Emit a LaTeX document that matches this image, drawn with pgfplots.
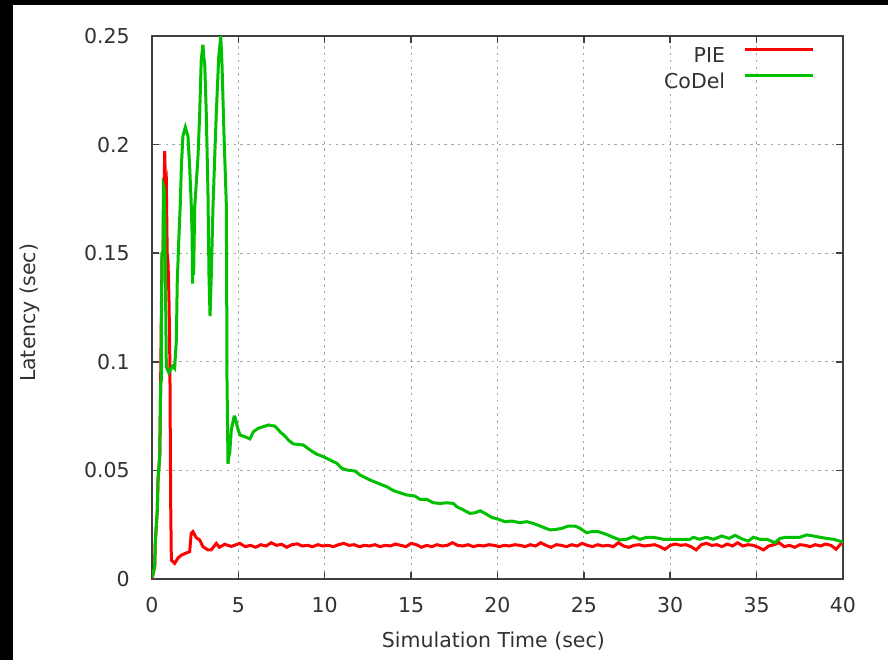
\documentclass[border=0pt]{standalone}
\usepackage{fontspec}
\setmainfont{DejaVu Sans}
\usepackage{pgfplots}
\pgfplotsset{compat=1.18}
\definecolor{gpgreen}{RGB}{0,192,0}
\definecolor{gpred}{RGB}{255,0,0}
\definecolor{axgray}{RGB}{64,64,64}
\definecolor{txtgray}{RGB}{50,50,50}
\begin{document}
\begin{tikzpicture}[font=\fontsize{10.25}{12.3}\selectfont]
\fill[black] (-76pt,-40.5pt) rectangle (368pt,289.5pt);
\fill[white] (-69.5pt,-40.5pt) rectangle (368pt,287pt);
\begin{axis}[
  scale only axis,
  width=345.5pt, height=271.5pt,
  xmin=0, xmax=40, ymin=0, ymax=0.25,
  xtick={0,5,10,15,20,25,30,35,40},
  xticklabels={0,5,10,15,20,25,30,35,40},
  ytick={0,0.05,0.1,0.15,0.2,0.25},
  yticklabels={0,0.05,0.1,0.15,0.2,0.25},
  scaled x ticks=false, scaled y ticks=false,
  xtick pos=both, ytick pos=both,
  tick align=inside,
  major tick length=3.5pt,
  axis line style={axgray, line width=0.75pt},
  tick style={axgray, line width=0.75pt},
  grid=major,
  major grid style={gray!70, line width=0.6pt, dash pattern=on 1.2pt off 2.2pt},
  tick label style={font=\fontsize{10.25}{12.3}\selectfont, text=txtgray},
  xticklabel style={yshift=-5.5pt},
  yticklabel style={xshift=-7.6pt},
  xlabel={Simulation Time (sec)},
  ylabel={Latency (sec)},
  label style={font=\fontsize{10.25}{12.3}\selectfont, text=txtgray},
  xlabel style={at={(axis description cs:0.494,-0.114)}, anchor=center},
  ylabel style={at={(axis description cs:-0.1766,0.49)}, anchor=center, rotate=0},
  legend plot pos=right,
  legend cell align=right,
  legend image code/.code={\draw[#1] (0pt,3.7pt) -- (34pt,3.7pt);},
  legend style={draw=none, fill=none, at={(rel axis cs:1,1)}, anchor=north east,
    xshift=-14.25pt, yshift=-4.85pt, inner sep=0pt, row sep=2.75pt, column sep=8.5pt,
    font=\fontsize{10.25}{12.3}\selectfont, text=txtgray,
    nodes={inner sep=0.5pt, text height=7.5pt, text depth=2pt}},
]
\addplot[gpred, line width=1.5pt] coordinates {
(0,0.0) (0.16,0.006) (0.19,0.017) (0.31,0.032) (0.35,0.046) (0.45,0.057) (0.50,0.09) (0.54,0.121) (0.58,0.148) (0.64,0.151) (0.7,0.18) (0.735,0.197) (0.78,0.18) (0.83,0.182) (0.88,0.15) (0.93,0.145) (0.98,0.13) (1.02,0.11) (1.04,0.093) (1.08,0.036) (1.12,0.0087) (1.31,0.0072) (1.51,0.0097) (1.70,0.011) (1.99,0.012) (2.18,0.0126) (2.27,0.021) (2.37,0.0218) (2.56,0.019) (2.76,0.018) (2.95,0.0149) (3.24,0.0134) (3.43,0.0134) (3.72,0.0164) (3.9,0.0146) (4.21,0.016) (4.59,0.015)
(5.08,0.0164) (5.4,0.0149) (5.7,0.0155) (6.0,0.0146) (6.3,0.0158) (6.6,0.0152) (6.9,0.0167) (7.2,0.0155) (7.5,0.016) (7.8,0.0146) (8.1,0.0158) (8.4,0.0162) (8.7,0.0152) (9.0,0.0155) (9.3,0.0149) (9.6,0.0158) (9.9,0.0152) (10.2,0.0155) (10.5,0.0149) (10.8,0.0158) (11.1,0.0164) (11.4,0.0155) (11.7,0.0158) (12.0,0.0149) (12.3,0.0155) (12.6,0.0152) (12.9,0.0158) (13.2,0.0149) (13.5,0.0155) (13.8,0.0152) (14.1,0.0161) (14.4,0.0155) (14.7,0.0149) (15.0,0.0164) (15.3,0.0158) (15.6,0.0146) (15.9,0.0155) (16.2,0.0149) (16.5,0.0158) (16.8,0.0152) (17.1,0.0155) (17.4,0.0167) (17.7,0.0155) (18.0,0.0152) (18.3,0.0158) (18.6,0.0149) (18.9,0.0155) (19.2,0.0152) (19.5,0.0158) (19.8,0.0155) (20.1,0.0149) (20.4,0.0155) (20.7,0.0152) (21.0,0.0158) (21.3,0.0155) (21.6,0.0149) (21.9,0.0158) (22.2,0.0152) (22.5,0.0167) (22.8,0.0155) (23.1,0.0146) (23.4,0.0158) (23.7,0.0155) (24.0,0.0149) (24.3,0.0158) (24.6,0.0152) (24.9,0.0164) (25.2,0.0155) (25.5,0.0149) (25.8,0.0158) (26.1,0.0152) (26.4,0.0155) (26.7,0.0149) (27.0,0.0167) (27.3,0.0152) (27.6,0.0146) (27.9,0.0155) (28.2,0.0158) (28.5,0.0152) (28.8,0.0155) (29.1,0.0158) (29.4,0.0149) (29.7,0.0137) (30.0,0.0155) (30.3,0.0161) (30.6,0.0155) (30.9,0.0158) (31.2,0.0149) (31.5,0.0134) (31.8,0.0158) (32.1,0.0164) (32.4,0.0155) (32.7,0.0158) (33.0,0.0149) (33.3,0.0161) (33.6,0.0152) (33.9,0.0167) (34.2,0.0152) (34.5,0.0158) (34.8,0.0155) (35.1,0.0146) (35.4,0.0134) (35.7,0.0152) (36.0,0.0158) (36.3,0.0167) (36.6,0.0149) (36.9,0.0155) (37.2,0.0146) (37.5,0.0158) (37.8,0.0155) (38.1,0.0149) (38.4,0.0158) (38.7,0.0152) (39.0,0.0161) (39.3,0.0155) (39.6,0.0137) (39.9,0.0164) (40,0.0167)
};
\addlegendentry{PIE}
\addplot[gpgreen, line width=1.5pt] coordinates {
(0,0.0005) (0.156,0.0057) (0.19,0.0166) (0.307,0.0318) (0.347,0.0456) (0.446,0.0563) (0.504,0.090) (0.539,0.0916) (0.55,0.121) (0.579,0.150) (0.637,0.151) (0.66,0.181) (0.70,0.18) (0.75,0.165) (0.80,0.12) (0.83,0.0977) (0.97,0.095) (1.2,0.098) (1.31,0.097) (1.41,0.110) (1.46,0.136) (1.55,0.156) (1.64,0.173) (1.70,0.190) (1.79,0.204) (1.93,0.208) (2.0,0.206) (2.08,0.204) (2.18,0.190) (2.27,0.173) (2.32,0.159) (2.35,0.136) (2.38,0.150) (2.41,0.140) (2.47,0.171) (2.66,0.194) (2.76,0.214) (2.85,0.239) (2.95,0.246) (3.0,0.24) (3.05,0.2375) (3.14,0.215) (3.24,0.178) (3.30,0.139) (3.36,0.121) (3.43,0.139) (3.53,0.171) (3.63,0.194) (3.72,0.214) (3.86,0.24) (3.98,0.25) (4.05,0.2375) (4.17,0.204) (4.30,0.173) (4.32,0.144) (4.34,0.093) (4.40,0.053) (4.44,0.056) (4.50,0.058) (4.59,0.0686) (4.75,0.0747) (4.80,0.0747) (4.94,0.070) (5.09,0.0663) (5.38,0.0655) (5.67,0.0645) (5.87,0.0678) (6.15,0.0694) (6.44,0.0701) (6.73,0.0709) (7.12,0.0704) (7.41,0.0678) (7.70,0.0658) (7.89,0.064) (8.18,0.0622) (8.76,0.0617) (9.15,0.0594) (9.53,0.0575) (9.92,0.0563) (10.30,0.0548) (10.69,0.0533) (10.98,0.051) (11.27,0.0502) (11.75,0.0497) (12.04,0.0479) (12.62,0.0456) (13.20,0.0437) (13.59,0.0425) (13.97,0.0407) (14.36,0.0397) (14.74,0.0387) (15.22,0.0382) (15.51,0.0367) (15.90,0.0367) (16.28,0.0351) (16.67,0.0348) (17.06,0.0351) (17.44,0.0348) (17.64,0.0333) (18.02,0.0318) (18.41,0.0302) (18.70,0.0305) (18.99,0.0314) (19.28,0.0302) (19.66,0.0284) (20.05,0.0275) (20.43,0.0264) (20.82,0.0267) (21.30,0.0259) (21.69,0.0264) (22.07,0.0256) (22.56,0.0241) (23.04,0.0226) (23.43,0.0229) (23.72,0.0233) (24.10,0.0244) (24.49,0.0244) (24.78,0.0233) (25.16,0.0213) (25.45,0.0218) (25.84,0.0218) (26.32,0.0205) (26.70,0.0192) (27.09,0.018) (27.48,0.0183) (27.86,0.0195) (28.25,0.0183) (28.64,0.0192) (29.02,0.0192) (29.6,0.0183) (31.14,0.0183) (31.34,0.0192) (31.7,0.0183) (32.1,0.0192) (32.5,0.0183) (32.98,0.0198) (33.4,0.0187) (33.75,0.0201) (34.2,0.0183) (34.52,0.0175) (34.8,0.0192) (35.2,0.0183) (35.6,0.0183) (36.06,0.0167) (36.35,0.0187) (36.7,0.0192) (37.5,0.0192) (37.9,0.0203) (38.3,0.0198) (38.67,0.0192) (39.05,0.0187) (39.44,0.0183) (39.92,0.0172) (40,0.017)
};
\addlegendentry{CoDel}
\end{axis}
\pgfresetboundingbox
\useasboundingbox (-76pt,-40.5pt) rectangle (368pt,289.5pt);
\end{tikzpicture}
\end{document}
